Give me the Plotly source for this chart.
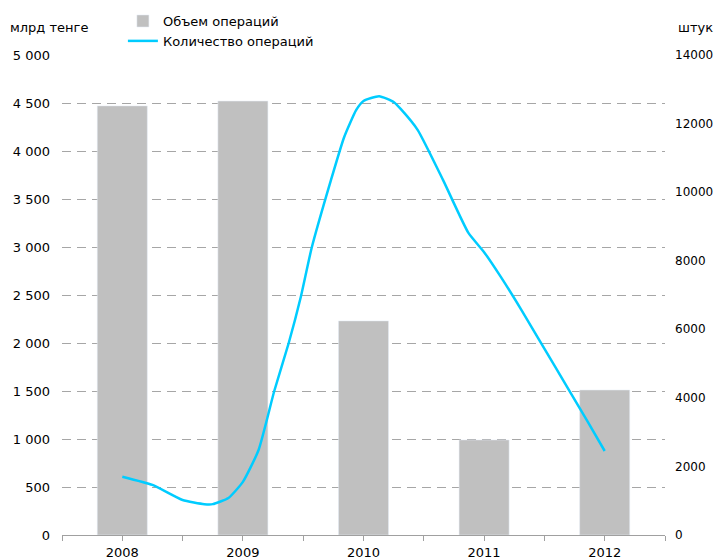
import plotly.graph_objects as go

years = [2008, 2009, 2010, 2011, 2012]
volume = [4470, 4520, 2230, 990, 1510]  # млрд тенге

# smoothed line (fractional year, штук)
count_x = [2008.0, 2008.25, 2008.5, 2008.68, 2008.75, 2008.88, 2009.0, 2009.13, 2009.26,
           2009.38, 2009.48, 2009.57, 2009.73, 2009.84, 2009.94, 2010.0, 2010.13, 2010.25,
           2010.31, 2010.45, 2010.66, 2010.87, 2011.0, 2011.14, 2011.31, 2011.58, 2011.86, 2012.0]
count_y = [1700, 1460, 1020, 900, 900, 1080, 1550, 2480, 4200,
           5600, 6940, 8370, 10350, 11610, 12400, 12660, 12800, 12630,
           12420, 11810, 10350, 8810, 8250, 7520, 6560, 4960, 3300, 2450]

left_ticks = list(range(0, 5001, 500))
right_ticks = list(range(0, 14001, 2000))
x_ticks = [2007.5, 2008, 2008.5, 2009, 2009.5, 2010, 2010.5, 2011, 2011.5, 2012, 2012.5]
x_text = [str(int(v)) if v == int(v) else '' for v in x_ticks]

fig = go.Figure()
fig.add_trace(go.Bar(x=years, y=volume, name='Объем операций', marker_color='#c0c0c0',
                     width=0.415))
fig.add_trace(go.Scatter(x=count_x, y=count_y, name='Количество операций', yaxis='y2',
                         mode='lines', line=dict(color='#00ccff', width=2.5, shape='spline', smoothing=0.5)))

# page body has an 8px margin, so the figure is 8px smaller than the window
fig.update_layout(
    width=714, height=552,
    margin=dict(l=54, r=57, t=47, b=25, autoexpand=False),
    plot_bgcolor='white', paper_bgcolor='white',
    font=dict(family='DejaVu Sans', size=13, color='#000000'),
    separators=', ',
    showlegend=True,
    legend=dict(x=0.101, y=1.102, xanchor='left', yanchor='top', bgcolor='rgba(0,0,0,0)',
                font=dict(size=13), tracegroupgap=0, itemwidth=30),
    xaxis=dict(range=[2007.5, 2012.5], tickvals=x_ticks, ticktext=x_text, showgrid=False,
               showline=True, linecolor='#a0a0a0', ticks='outside', ticklen=5, tickcolor='#a0a0a0',
               zeroline=False),
    yaxis=dict(range=[0, 5000], tickvals=left_ticks, tickformat=',d', showgrid=True,
               gridcolor='#a6a6a6', griddash='9px,6px', zeroline=False, showline=False,
               ticks='', ticklabelstandoff=11),
    yaxis2=dict(range=[0, 14000], tickvals=right_ticks, tickformat='d', overlaying='y', side='right',
                showgrid=False, zeroline=False, showline=False, ticks='', ticklabelstandoff=9,
                tickfont=dict(size=12)),
    annotations=[
        dict(text='млрд тенге', xref='paper', yref='paper', x=-0.0896, y=1.058, xanchor='left',
             yanchor='middle', showarrow=False, font=dict(size=13)),
        dict(text='штук', xref='paper', yref='paper', x=1.018, y=1.058, xanchor='left',
             yanchor='middle', showarrow=False, font=dict(size=13)),
    ],
)

fig.write_html('out.html')
